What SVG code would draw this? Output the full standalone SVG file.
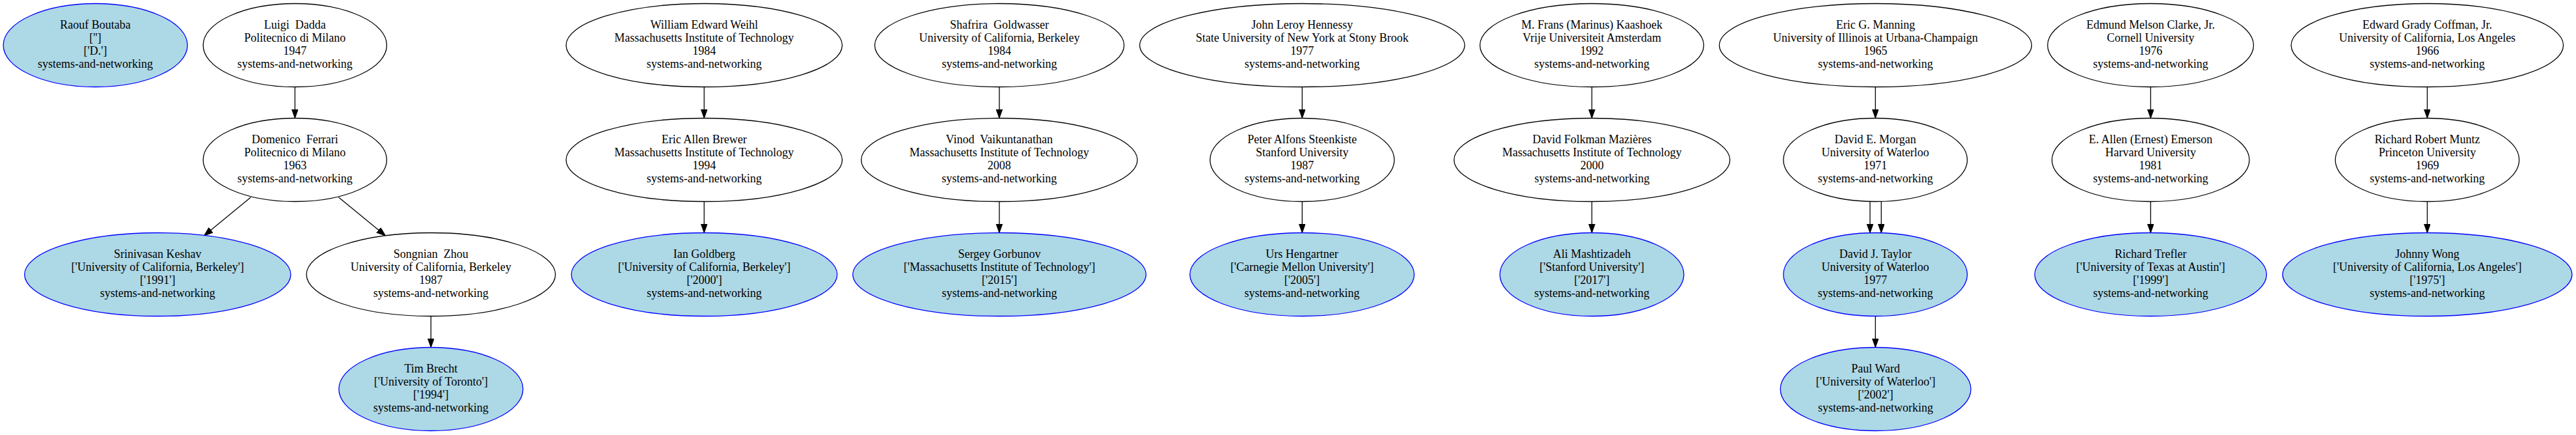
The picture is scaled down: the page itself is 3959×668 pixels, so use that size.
<svg xmlns="http://www.w3.org/2000/svg" width="3959" height="668" viewBox="0 0 3959 668" xml:space="preserve">
<style>
.n ellipse{fill:#ffffff;stroke:#000000;stroke-width:1.3}
.s ellipse{fill:#add8e6;stroke:#0000ff;stroke-width:1.3}
text{font-family:"Liberation Serif","Times New Roman",serif;font-size:18px;text-anchor:middle;fill:#000000;white-space:pre}
#edges line{stroke:#000000;stroke-width:1.3;marker-end:url(#ah)}
</style>
<defs>
<marker id="ah" markerUnits="userSpaceOnUse" markerWidth="16" markerHeight="12" refX="14" refY="5" orient="auto">
<path d="M0,0 L14,5 L0,10 z" fill="#000000" stroke="#000000" stroke-width="1"/>
</marker>
</defs>
<rect x="0" y="0" width="3959" height="668" fill="#ffffff"/>
<g id="edges">
<line x1="453.3" y1="133.5" x2="453.3" y2="181.5"/>
<line x1="385.4" y1="303" x2="313.5" y2="362"/>
<line x1="520.5" y1="303" x2="592.5" y2="362"/>
<line x1="662.3" y1="485.5" x2="662.3" y2="533.5"/>
<line x1="1082.2" y1="133.5" x2="1082.2" y2="181.5"/>
<line x1="1082.2" y1="309.5" x2="1082.2" y2="357.5"/>
<line x1="1535.8" y1="133.5" x2="1535.8" y2="181.5"/>
<line x1="1535.8" y1="309.5" x2="1535.8" y2="357.5"/>
<line x1="2001.3" y1="133.5" x2="2001.3" y2="181.5"/>
<line x1="2001.3" y1="309.5" x2="2001.3" y2="357.5"/>
<line x1="2446.5" y1="133.5" x2="2446.5" y2="181.5"/>
<line x1="2446.5" y1="309.5" x2="2446.5" y2="357.5"/>
<line x1="2882.3" y1="133.5" x2="2882.3" y2="181.5"/>
<line x1="2874" y1="309.3" x2="2874" y2="357.6"/>
<line x1="2891.3" y1="309.3" x2="2891.3" y2="357.6"/>
<line x1="2882.3" y1="485.5" x2="2882.3" y2="533.5"/>
<line x1="3305.3" y1="133.5" x2="3305.3" y2="181.5"/>
<line x1="3305.3" y1="309.5" x2="3305.3" y2="357.5"/>
<line x1="3730.4" y1="133.5" x2="3730.4" y2="181.5"/>
<line x1="3730.4" y1="309.5" x2="3730.4" y2="357.5"/>
</g>
<g id="raouf_boutaba" class="s"><ellipse cx="146.6" cy="69.5" rx="141.5" ry="64"/><text><tspan x="146.6" y="44">Raouf Boutaba</tspan><tspan x="146.6" y="64">['']</tspan><tspan x="146.6" y="84">['D.']</tspan><tspan x="146.6" y="104">systems-and-networking</tspan></text></g>
<g id="luigi_dadda" class="n"><ellipse cx="453.3" cy="69.5" rx="141.1" ry="64"/><text><tspan x="453.3" y="44">Luigi  Dadda</tspan><tspan x="453.3" y="64">Politecnico di Milano</tspan><tspan x="453.3" y="84">1947</tspan><tspan x="453.3" y="104">systems-and-networking</tspan></text></g>
<g id="domenico_ferrari" class="n"><ellipse cx="453.3" cy="245.5" rx="141.1" ry="64"/><text><tspan x="453.3" y="220">Domenico  Ferrari</tspan><tspan x="453.3" y="240">Politecnico di Milano</tspan><tspan x="453.3" y="260">1963</tspan><tspan x="453.3" y="280">systems-and-networking</tspan></text></g>
<g id="srinivasan_keshav" class="s"><ellipse cx="242.3" cy="421.5" rx="204.6" ry="64"/><text><tspan x="242.3" y="396">Srinivasan Keshav</tspan><tspan x="242.3" y="416">['University of California, Berkeley']</tspan><tspan x="242.3" y="436">['1991']</tspan><tspan x="242.3" y="456">systems-and-networking</tspan></text></g>
<g id="songnian_zhou" class="n"><ellipse cx="662.3" cy="421.5" rx="191.3" ry="64"/><text><tspan x="662.3" y="396">Songnian  Zhou</tspan><tspan x="662.3" y="416">University of California, Berkeley</tspan><tspan x="662.3" y="436">1987</tspan><tspan x="662.3" y="456">systems-and-networking</tspan></text></g>
<g id="tim_brecht" class="s"><ellipse cx="662.3" cy="597.5" rx="141.5" ry="64"/><text><tspan x="662.3" y="572">Tim Brecht</tspan><tspan x="662.3" y="592">['University of Toronto']</tspan><tspan x="662.3" y="612">['1994']</tspan><tspan x="662.3" y="632">systems-and-networking</tspan></text></g>
<g id="william_edward_weihl" class="n"><ellipse cx="1082.2" cy="69.5" rx="212.2" ry="64"/><text><tspan x="1082.2" y="44">William Edward Weihl</tspan><tspan x="1082.2" y="64">Massachusetts Institute of Technology</tspan><tspan x="1082.2" y="84">1984</tspan><tspan x="1082.2" y="104">systems-and-networking</tspan></text></g>
<g id="eric_allen_brewer" class="n"><ellipse cx="1082.2" cy="245.5" rx="212.2" ry="64"/><text><tspan x="1082.2" y="220">Eric Allen Brewer</tspan><tspan x="1082.2" y="240">Massachusetts Institute of Technology</tspan><tspan x="1082.2" y="260">1994</tspan><tspan x="1082.2" y="280">systems-and-networking</tspan></text></g>
<g id="ian_goldberg" class="s"><ellipse cx="1082.4" cy="421.5" rx="204.3" ry="64"/><text><tspan x="1082.4" y="396">Ian Goldberg</tspan><tspan x="1082.4" y="416">['University of California, Berkeley']</tspan><tspan x="1082.4" y="436">['2000']</tspan><tspan x="1082.4" y="456">systems-and-networking</tspan></text></g>
<g id="shafrira_goldwasser" class="n"><ellipse cx="1536" cy="69.5" rx="191.6" ry="64"/><text><tspan x="1536" y="44">Shafrira  Goldwasser</tspan><tspan x="1536" y="64">University of California, Berkeley</tspan><tspan x="1536" y="84">1984</tspan><tspan x="1536" y="104">systems-and-networking</tspan></text></g>
<g id="vinod_vaikuntanathan" class="n"><ellipse cx="1535.8" cy="245.5" rx="212.2" ry="64"/><text><tspan x="1535.8" y="220">Vinod  Vaikuntanathan</tspan><tspan x="1535.8" y="240">Massachusetts Institute of Technology</tspan><tspan x="1535.8" y="260">2008</tspan><tspan x="1535.8" y="280">systems-and-networking</tspan></text></g>
<g id="sergey_gorbunov" class="s"><ellipse cx="1536" cy="421.5" rx="225.3" ry="64"/><text><tspan x="1536" y="396">Sergey Gorbunov</tspan><tspan x="1536" y="416">['Massachusetts Institute of Technology']</tspan><tspan x="1536" y="436">['2015']</tspan><tspan x="1536" y="456">systems-and-networking</tspan></text></g>
<g id="john_leroy_hennessy" class="n"><ellipse cx="2001.3" cy="69.5" rx="249.7" ry="64"/><text><tspan x="2001.3" y="44">John Leroy Hennessy</tspan><tspan x="2001.3" y="64">State University of New York at Stony Brook</tspan><tspan x="2001.3" y="84">1977</tspan><tspan x="2001.3" y="104">systems-and-networking</tspan></text></g>
<g id="peter_alfons_steenkiste" class="n"><ellipse cx="2001.3" cy="245.5" rx="141.6" ry="64"/><text><tspan x="2001.3" y="220">Peter Alfons Steenkiste</tspan><tspan x="2001.3" y="240">Stanford University</tspan><tspan x="2001.3" y="260">1987</tspan><tspan x="2001.3" y="280">systems-and-networking</tspan></text></g>
<g id="urs_hengartner" class="s"><ellipse cx="2001.1" cy="421.5" rx="172.4" ry="64"/><text><tspan x="2001.1" y="396">Urs Hengartner</tspan><tspan x="2001.1" y="416">['Carnegie Mellon University']</tspan><tspan x="2001.1" y="436">['2005']</tspan><tspan x="2001.1" y="456">systems-and-networking</tspan></text></g>
<g id="frans_kaashoek" class="n"><ellipse cx="2446.5" cy="69.5" rx="172" ry="64"/><text><tspan x="2446.5" y="44">M. Frans (Marinus) Kaashoek</tspan><tspan x="2446.5" y="64">Vrije Universiteit Amsterdam</tspan><tspan x="2446.5" y="84">1992</tspan><tspan x="2446.5" y="104">systems-and-networking</tspan></text></g>
<g id="david_folkman_mazieres" class="n"><ellipse cx="2446.7" cy="245.5" rx="212" ry="64"/><text><tspan x="2446.7" y="220">David Folkman Mazières</tspan><tspan x="2446.7" y="240">Massachusetts Institute of Technology</tspan><tspan x="2446.7" y="260">2000</tspan><tspan x="2446.7" y="280">systems-and-networking</tspan></text></g>
<g id="ali_mashtizadeh" class="s"><ellipse cx="2446.5" cy="421.5" rx="141.4" ry="64"/><text><tspan x="2446.5" y="396">Ali Mashtizadeh</tspan><tspan x="2446.5" y="416">['Stanford University']</tspan><tspan x="2446.5" y="436">['2017']</tspan><tspan x="2446.5" y="456">systems-and-networking</tspan></text></g>
<g id="eric_g_manning" class="n"><ellipse cx="2882.4" cy="69.5" rx="240" ry="64"/><text><tspan x="2882.4" y="44">Eric G. Manning</tspan><tspan x="2882.4" y="64">University of Illinois at Urbana-Champaign</tspan><tspan x="2882.4" y="84">1965</tspan><tspan x="2882.4" y="104">systems-and-networking</tspan></text></g>
<g id="david_e_morgan" class="n"><ellipse cx="2882.2" cy="245.5" rx="141.3" ry="64"/><text><tspan x="2882.2" y="220">David E. Morgan</tspan><tspan x="2882.2" y="240">University of Waterloo</tspan><tspan x="2882.2" y="260">1971</tspan><tspan x="2882.2" y="280">systems-and-networking</tspan></text></g>
<g id="david_j_taylor" class="s"><ellipse cx="2882.2" cy="421.5" rx="141.3" ry="64"/><text><tspan x="2882.2" y="396">David J. Taylor</tspan><tspan x="2882.2" y="416">University of Waterloo</tspan><tspan x="2882.2" y="436">1977</tspan><tspan x="2882.2" y="456">systems-and-networking</tspan></text></g>
<g id="paul_ward" class="s"><ellipse cx="2882.6" cy="597.5" rx="146.4" ry="64"/><text><tspan x="2882.6" y="572">Paul Ward</tspan><tspan x="2882.6" y="592">['University of Waterloo']</tspan><tspan x="2882.6" y="612">['2002']</tspan><tspan x="2882.6" y="632">systems-and-networking</tspan></text></g>
<g id="edmund_melson_clarke" class="n"><ellipse cx="3305.2" cy="69.5" rx="158.3" ry="64"/><text><tspan x="3305.2" y="44">Edmund Melson Clarke, Jr.</tspan><tspan x="3305.2" y="64">Cornell University</tspan><tspan x="3305.2" y="84">1976</tspan><tspan x="3305.2" y="104">systems-and-networking</tspan></text></g>
<g id="e_allen_emerson" class="n"><ellipse cx="3305.3" cy="245.5" rx="151.7" ry="64"/><text><tspan x="3305.3" y="220">E. Allen (Ernest) Emerson</tspan><tspan x="3305.3" y="240">Harvard University</tspan><tspan x="3305.3" y="260">1981</tspan><tspan x="3305.3" y="280">systems-and-networking</tspan></text></g>
<g id="richard_trefler" class="s"><ellipse cx="3305.3" cy="421.5" rx="178.2" ry="64"/><text><tspan x="3305.3" y="396">Richard Trefler</tspan><tspan x="3305.3" y="416">['University of Texas at Austin']</tspan><tspan x="3305.3" y="436">['1999']</tspan><tspan x="3305.3" y="456">systems-and-networking</tspan></text></g>
<g id="edward_grady_coffman" class="n"><ellipse cx="3730.4" cy="69.5" rx="209.2" ry="64"/><text><tspan x="3730.4" y="44">Edward Grady Coffman, Jr.</tspan><tspan x="3730.4" y="64">University of California, Los Angeles</tspan><tspan x="3730.4" y="84">1966</tspan><tspan x="3730.4" y="104">systems-and-networking</tspan></text></g>
<g id="richard_robert_muntz" class="n"><ellipse cx="3730.4" cy="245.5" rx="141.3" ry="64"/><text><tspan x="3730.4" y="220">Richard Robert Muntz</tspan><tspan x="3730.4" y="240">Princeton University</tspan><tspan x="3730.4" y="260">1969</tspan><tspan x="3730.4" y="280">systems-and-networking</tspan></text></g>
<g id="johnny_wong" class="s"><ellipse cx="3730.5" cy="421.5" rx="222.4" ry="64"/><text><tspan x="3730.5" y="396">Johnny Wong</tspan><tspan x="3730.5" y="416">['University of California, Los Angeles']</tspan><tspan x="3730.5" y="436">['1975']</tspan><tspan x="3730.5" y="456">systems-and-networking</tspan></text></g>
</svg>
